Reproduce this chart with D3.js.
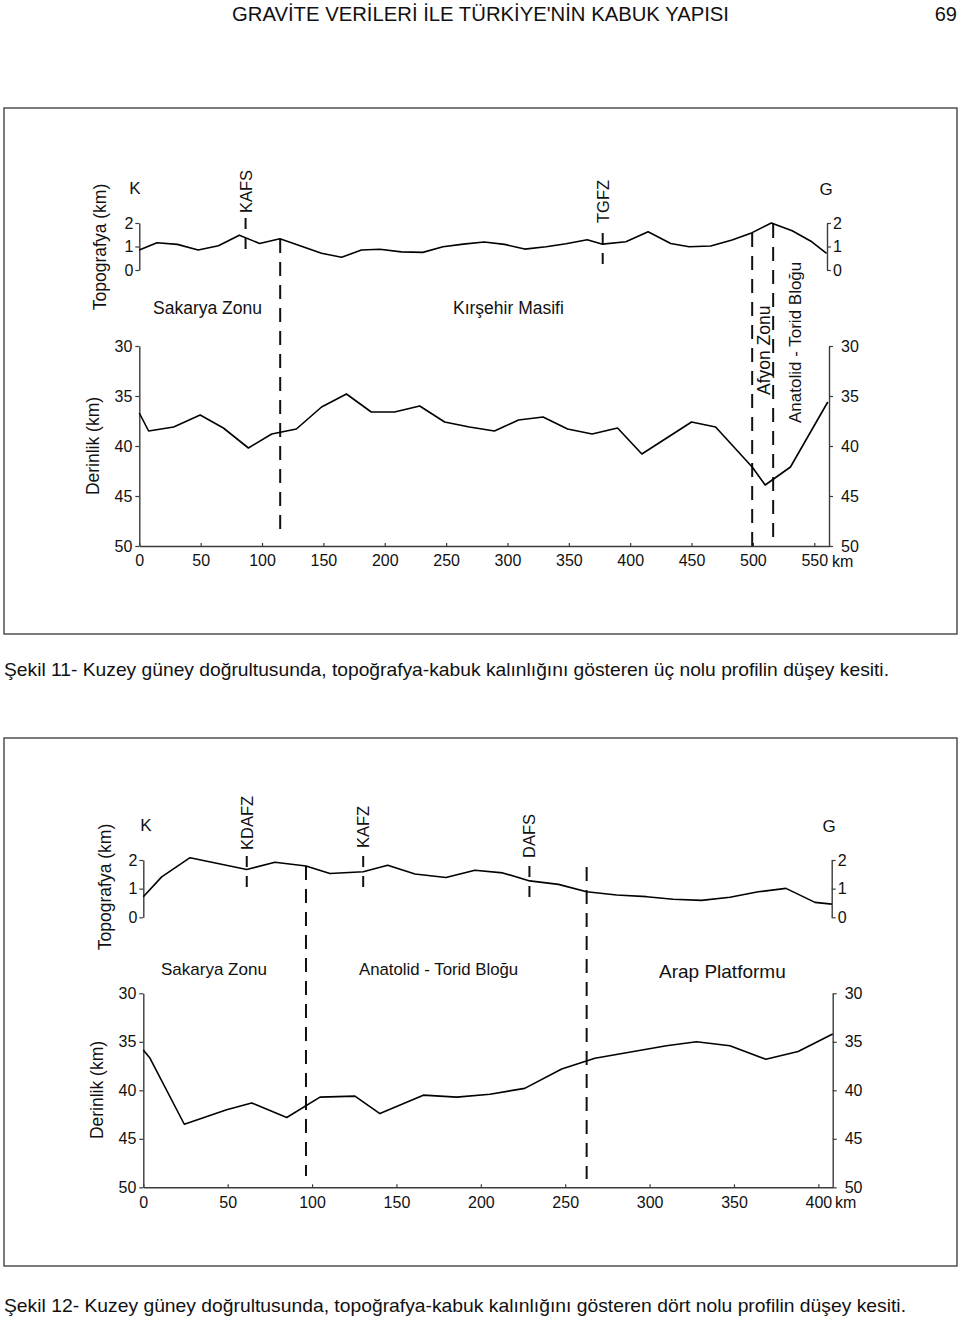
<!DOCTYPE html>
<html>
<head>
<meta charset="utf-8">
<script src="https://cdn.jsdelivr.net/npm/d3@7"></script>
<style>
  html, body { margin: 0; padding: 0; background: #fff; }
  svg { display: block; }
  text { font-family: "Liberation Sans", Arial, sans-serif; fill: #111; }
</style>
</head>
<body>
<svg id="chart" width="960" height="1319"></svg>
<script>
// ---------------- DATA ----------------
// Profile 3 (Şekil 11)
const p3TopoKm  = [0, 14.4, 31, 48, 64.5, 81.5, 98, 114.6, 148.5, 164.8, 181, 196, 213.5, 231, 247.5, 264, 281, 297.6, 314, 331.5, 347.7, 365, 377.5, 396.5, 414.6, 433, 448, 465.6, 483, 499.4, 515, 532, 548, 560];
const p3TopoVal = [0.85, 1.16, 1.09, 0.85, 1.03, 1.48, 1.13, 1.33, 0.71, 0.54, 0.85, 0.88, 0.77, 0.75, 0.99, 1.10, 1.19, 1.09, 0.89, 0.99, 1.12, 1.29, 1.10, 1.20, 1.63, 1.13, 0.99, 1.02, 1.28, 1.59, 2.00, 1.67, 1.20, 0.71];
const p3DepthKm  = [0, 7.6, 28, 49.6, 68.5, 88.9, 107.9, 128, 148.5, 168.8, 189, 208, 228.5, 248.8, 269, 289.4, 309, 329, 349, 369, 389.7, 409.5, 450, 469.6, 499.4, 510, 530.6, 561];
const p3DepthVal = [36.7, 38.5, 38.1, 36.9, 38.2, 40.2, 38.8, 38.3, 36.1, 34.8, 36.6, 36.6, 36.0, 37.6, 38.1, 38.5, 37.4, 37.1, 38.3, 38.8, 38.2, 40.8, 37.6, 38.1, 42.1, 43.9, 42.1, 35.6];
const p3XTicks = [0, 50, 100, 150, 200, 250, 300, 350, 400, 450, 500, 550];
const p3FaultNames = ["KAFS", "TGFZ"];
const p3FaultKm = [86.6, 377.6];
const p3BoundaryKm = [114.8, 499.4, 516.5];
const p3Zones = ["Sakarya Zonu", "Kırşehir Masifi"];
const p3RotZones = ["Afyon Zonu", "Anatolid - Torid Bloğu"];

// Profile 4 (Şekil 12)
const p4TopoKm  = [0, 10.9, 27.7, 61.3, 78, 96.4, 110.6, 130.3, 144.8, 161, 179.3, 196.5, 213, 229, 246, 262.7, 280.5, 298.2, 314, 330.8, 347.6, 364.4, 380.8, 398, 408];
const p4TopoVal = [0.72, 1.41, 2.08, 1.67, 1.92, 1.79, 1.53, 1.59, 1.82, 1.51, 1.39, 1.64, 1.55, 1.27, 1.15, 0.89, 0.78, 0.72, 0.63, 0.59, 0.70, 0.89, 1.01, 0.52, 0.46];
const p4DepthKm  = [0, 4, 24.3, 49.4, 64.2, 85, 104.7, 125.4, 140.2, 165.9, 185.7, 205.4, 226, 247.9, 267.6, 310, 327.8, 347.6, 368.9, 388, 408.5];
const p4DepthVal = [35.85, 36.7, 43.5, 42.0, 41.3, 42.8, 40.7, 40.6, 42.4, 40.5, 40.7, 40.4, 39.8, 37.8, 36.7, 35.4, 35.0, 35.4, 36.8, 36.0, 34.2];
const p4XTicks = [0, 50, 100, 150, 200, 250, 300, 350, 400];
const p4FaultNames = ["KDAFZ", "KAFZ", "DAFS"];
const p4FaultKm = [61.3, 130.3, 228.8];
const p4BoundaryKm = [96.4, 262.7];
const p4Zones = ["Sakarya Zonu", "Anatolid - Torid Bloğu", "Arap Platformu"];

const topoTicks = [0, 1, 2];
const depthTicks = [30, 35, 40, 45, 50];

const headerText = "GRAVİTE VERİLERİ İLE TÜRKİYE'NİN KABUK YAPISI";
const pageNo = "69";
const caption11 = "Şekil 11- Kuzey güney doğrultusunda, topoğrafya-kabuk kalınlığını gösteren üç nolu profilin düşey kesiti.";
const caption12 = "Şekil 12- Kuzey güney doğrultusunda, topoğrafya-kabuk kalınlığını gösteren dört nolu profilin düşey kesiti.";

// ---------------- DRAWING ----------------
const svg = d3.select("#chart");
const AX = "#3c3c3c";
const fmt = d3.format("d");

svg.append("text").attr("x", 232).attr("y", 21).attr("font-size", 19.5)
  .attr("textLength", 497).attr("lengthAdjust", "spacingAndGlyphs").text(headerText);
svg.append("text").attr("x", 957).attr("y", 21).attr("font-size", 20)
  .attr("text-anchor", "end").text(pageNo);

function zip(a, b) { return a.map((k, i) => ({ km: k, v: b[i] })); }

function panel(cfg) {
  const g = svg.append("g");
  g.append("rect").attr("x", cfg.box[0]).attr("y", cfg.box[1])
    .attr("width", cfg.box[2] - cfg.box[0]).attr("height", cfg.box[3] - cfg.box[1])
    .attr("fill", "none").attr("stroke", "#444").attr("stroke-width", 1.4);

  const x = d3.scaleLinear().domain([0, cfg.xMax]).range([cfg.left, cfg.right]);
  const yT = d3.scaleLinear().domain([0, 2]).range([cfg.topo0, cfg.topo2]);
  const yD = d3.scaleLinear().domain([30, 50]).range([cfg.d30, cfg.d50]);

  function styleAxis(sel, fs) {
    sel.attr("color", AX).attr("font-family", null).attr("font-size", null);
    sel.selectAll("path.domain").attr("stroke-width", 1.4);
    sel.selectAll(".tick line").attr("stroke-width", 1.2);
    sel.selectAll("text").attr("font-size", fs).style("fill", "#111");
  }

  // topo axes
  g.append("g").attr("transform", `translate(${cfg.left},0)`)
    .call(d3.axisLeft(yT).tickValues(topoTicks).tickFormat(fmt).tickSize(4).tickPadding(2).tickSizeOuter(0))
    .call(s => styleAxis(s, 16));
  g.append("g").attr("transform", `translate(${cfg.rightTopo},0)`)
    .call(d3.axisRight(yT).tickValues(topoTicks).tickFormat(fmt).tickSize(4).tickPadding(2).tickSizeOuter(0))
    .call(s => styleAxis(s, 16));
  // depth axes
  g.append("g").attr("transform", `translate(${cfg.left},0)`)
    .call(d3.axisLeft(yD).tickValues(depthTicks).tickFormat(fmt).tickSize(4).tickPadding(3).tickSizeOuter(0))
    .call(s => styleAxis(s, 16));
  g.append("g").attr("transform", `translate(${cfg.right},0)`)
    .call(d3.axisRight(yD).tickValues(depthTicks).tickFormat(fmt).tickSize(4).tickPadding(8).tickSizeOuter(0))
    .call(s => styleAxis(s, 16));
  // x axis
  g.append("g").attr("transform", `translate(0,${cfg.d50})`)
    .call(d3.axisBottom(x).tickValues(cfg.xTicks).tickFormat(fmt).tickSize(-3).tickPadding(9).tickSizeOuter(0))
    .call(s => styleAxis(s, 16));
  g.append("text").attr("x", cfg.kmX).attr("y", cfg.d50 + 21).attr("font-size", 16).text("km");

  // axis titles
  g.append("text").attr("transform", `translate(${cfg.topoTitleX},${cfg.topoTitleY}) rotate(-90)`)
    .attr("text-anchor", "middle").attr("font-size", 17.5).text("Topografya (km)");
  g.append("text").attr("transform", `translate(${cfg.depthTitleX},${cfg.depthTitleY}) rotate(-90)`)
    .attr("text-anchor", "middle").attr("font-size", 17.5).text("Derinlik (km)");

  // K / G
  g.append("text").attr("x", cfg.kX).attr("y", cfg.kgY).attr("font-size", 17).attr("text-anchor", "middle").text("K");
  g.append("text").attr("x", cfg.gX).attr("y", cfg.kgY + 1).attr("font-size", 17).attr("text-anchor", "middle").text("G");

  // boundary dashed lines
  cfg.boundaryKm.forEach((k, i) => {
    g.append("line").attr("x1", x(k)).attr("x2", x(k))
      .attr("y1", cfg.boundY[i][0]).attr("y2", cfg.boundY[i][1])
      .attr("stroke", "#111").attr("stroke-width", 2).attr("stroke-dasharray", "14,9");
  });

  // faults
  cfg.faultNames.forEach((n, i) => {
    const fx = x(cfg.faultKm[i]);
    g.append("text").attr("transform", `translate(${fx},${cfg.faultLay[i][0]}) rotate(-90)`)
      .attr("dy", "0.36em").attr("font-size", 16.5).text(n);
    g.append("line").attr("x1", fx).attr("x2", fx)
      .attr("y1", cfg.faultLay[i][1]).attr("y2", cfg.faultLay[i][2])
      .attr("stroke", "#111").attr("stroke-width", 2).attr("stroke-dasharray", "11,9");
  });

  // lines
  const lineT = d3.line().x(d => x(d.km)).y(d => yT(d.v));
  const lineD = d3.line().x(d => x(d.km)).y(d => yD(d.v));
  g.append("path").datum(zip(cfg.topoKm, cfg.topoVal)).attr("d", lineT)
    .attr("fill", "none").attr("stroke", "#000").attr("stroke-width", 1.6).attr("stroke-linejoin", "round");
  g.append("path").datum(zip(cfg.depthKm, cfg.depthVal)).attr("d", lineD)
    .attr("fill", "none").attr("stroke", "#000").attr("stroke-width", 1.6).attr("stroke-linejoin", "round");

  // zone labels
  cfg.zones.forEach((z, i) => {
    const L = cfg.zoneLay[i];
    g.append("text").attr("x", L[0]).attr("y", L[1]).attr("font-size", L[2]).text(z);
  });
  (cfg.rotZones || []).forEach((z, i) => {
    const L = cfg.rotZoneLay[i];
    g.append("text").attr("transform", `translate(${L[0]},${L[1]}) rotate(-90)`)
      .attr("dy", "0.36em").attr("font-size", L[2]).text(z);
  });

  g.append("text").attr("x", 4).attr("y", cfg.captionY).attr("font-size", 18.5)
    .attr("textLength", cfg.captionLen).attr("lengthAdjust", "spacingAndGlyphs").text(cfg.caption);
}

panel({
  box: [4, 108, 957, 634],
  xMax: 562, left: 139.3, right: 829, rightTopo: 827,
  topo0: 270, topo2: 223, d30: 346, d50: 546,
  xTicks: p3XTicks, kmX: 832,
  topoTitleX: 106, topoTitleY: 247, depthTitleX: 99, depthTitleY: 446,
  kX: 135, gX: 826, kgY: 194,
  boundaryKm: p3BoundaryKm, boundY: [[239, 530], [233, 546], [224, 537]],
  faultNames: p3FaultNames, faultKm: p3FaultKm,
  faultLay: [[213, 218, 252], [223, 233, 268]],
  topoKm: p3TopoKm, topoVal: p3TopoVal, depthKm: p3DepthKm, depthVal: p3DepthVal,
  zones: p3Zones, zoneLay: [[153, 314, 17.5], [453, 314, 17.5]],
  rotZones: p3RotZones, rotZoneLay: [[764, 395, 17.5], [795, 423, 17]],
  caption: caption11, captionY: 676, captionLen: 885
});

panel({
  box: [4, 738, 957, 1266],
  xMax: 408.5, left: 143.3, right: 832.7, rightTopo: 831.7,
  topo0: 917.3, topo2: 860, d30: 993.3, d50: 1187.3,
  xTicks: p4XTicks, kmX: 835,
  topoTitleX: 111, topoTitleY: 887, depthTitleX: 103, depthTitleY: 1090,
  kX: 146, gX: 829, kgY: 831,
  boundaryKm: p4BoundaryKm, boundY: [[866, 1176], [867, 1179]],
  faultNames: p4FaultNames, faultKm: p4FaultKm,
  faultLay: [[850, 856, 892], [848, 856, 890], [858, 866, 902]],
  topoKm: p4TopoKm, topoVal: p4TopoVal, depthKm: p4DepthKm, depthVal: p4DepthVal,
  zones: p4Zones, zoneLay: [[161, 975, 17], [359, 975, 16.8], [659, 978, 19]],
  caption: caption12, captionY: 1312, captionLen: 902
});
</script>
</body>
</html>
